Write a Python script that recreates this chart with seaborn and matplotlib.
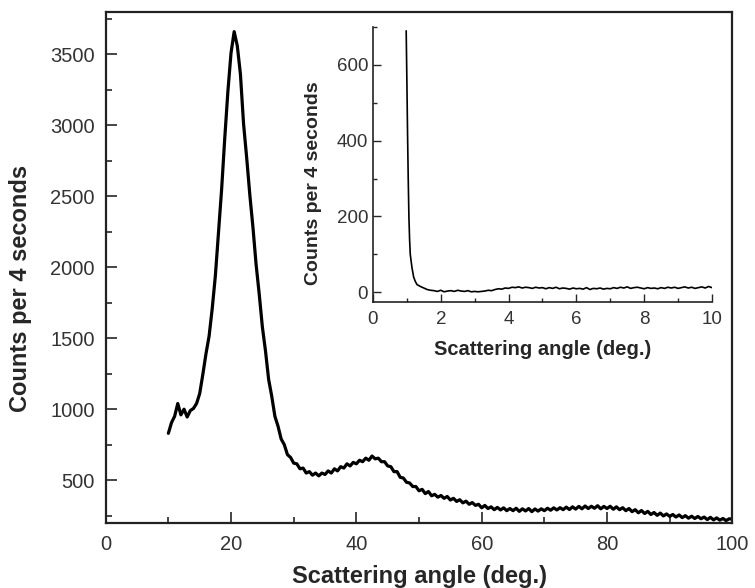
import numpy as np
import matplotlib
matplotlib.use("Agg")
import matplotlib.pyplot as plt
import seaborn as sns
from matplotlib.ticker import MultipleLocator

# main pattern: counts sampled every 0.5 deg from 10 to 100 deg
main_angle = np.arange(10, 100.5, 0.5)
main_counts = [
    830, 905, 950, 1040, 960, 1000, 945, 990, 1005, 1040,
    1110, 1245, 1390, 1515, 1710, 1940, 2240, 2550, 2910, 3240,
    3510, 3660, 3560, 3360, 3010, 2770, 2510, 2280, 2020, 1810,
    1580, 1410, 1210, 1090, 950, 880, 790, 750, 680, 660,
    620, 615, 580, 585, 550, 560, 535, 550, 530, 550,
    540, 565, 550, 580, 565, 595, 585, 615, 600, 625,
    615, 640, 630, 655, 640, 670, 650, 655, 630, 630,
    600, 595, 560, 560, 520, 515, 485, 480, 455, 455,
    425, 435, 405, 420, 390, 400, 380, 392, 372, 385,
    360, 372, 350, 362, 340, 352, 330, 342, 322, 330,
    305, 322, 300, 312, 292, 308, 290, 305, 285, 300,
    285, 302, 280, 298, 283, 300, 278, 297, 282, 298,
    285, 302, 288, 305, 290, 306, 292, 310, 293, 312,
    296, 315, 298, 318, 300, 316, 302, 320, 298, 315,
    300, 316, 295, 312, 292, 306, 285, 300, 278, 292,
    270, 286, 265, 280, 258, 272, 252, 268, 248, 262,
    245, 258, 240, 255, 236, 250, 232, 246, 230, 244,
    228, 240, 222, 238, 220, 234, 218, 230, 215, 228,
    225,
]

# small-angle pattern (inset)
inset_head_angle = [0.98, 1.0, 1.02, 1.04, 1.06, 1.08, 1.1, 1.15, 1.2,
                    1.25, 1.3, 1.4, 1.5, 1.6, 1.7]
inset_head_counts = [690, 560, 420, 300, 200, 140, 100, 65, 40,
                     28, 20, 15, 11, 7, 5]
inset_tail_angle = np.arange(1.8, 10.05, 0.1)
inset_tail_counts = [
    4, 2, 5, 1, 3, 4, 2, 5, 3, 2,
    4, 1, 2, 1, 2, 3, 5, 4, 7, 9,
    8, 11, 10, 13, 12, 14, 11, 13, 12, 10,
    13, 11, 12, 9, 12, 10, 13, 9, 11, 10,
    8, 11, 9, 10, 8, 12, 7, 10, 9, 11,
    8, 10, 9, 12, 10, 13, 11, 14, 10, 12,
    13, 11, 9, 12, 10, 11, 9, 12, 10, 13,
    11, 13, 10, 12, 14, 11, 13, 10, 12, 14,
    11, 15, 12,
]
inset_angle = np.concatenate([inset_head_angle, inset_tail_angle])
inset_counts = np.array(inset_head_counts + inset_tail_counts)

sns.set_theme(style="ticks")
plt.rcParams["font.family"] = ["Liberation Sans", "DejaVu Sans"]

TICK_COLOR = "#333333"

fig = plt.figure(figsize=(7.55, 5.88), dpi=100)
ax = fig.add_axes([0.140, 0.111, 0.830, 0.869])

sns.lineplot(x=main_angle, y=main_counts, ax=ax, color="black", linewidth=2.3)
ax.set_xlim(0, 100)
ax.set_ylim(200, 3800)
ax.xaxis.set_major_locator(MultipleLocator(20))
ax.xaxis.set_minor_locator(MultipleLocator(10))
ax.yaxis.set_minor_locator(MultipleLocator(250))
ax.set_yticks([500, 1000, 1500, 2000, 2500, 3000, 3500])
ax.tick_params(which="both", direction="in", top=False, right=False,
               labelsize=14.5, labelcolor=TICK_COLOR, width=1.2)
ax.tick_params(axis="y", which="major", pad=8)
ax.tick_params(axis="x", which="major", pad=9)
ax.tick_params(which="major", length=8)
ax.tick_params(which="minor", length=4)
for s in ax.spines.values():
    s.set_linewidth(1.6)
    s.set_color("#222222")
ax.set_xlabel("Scattering angle (deg.)", fontsize=17, fontweight="bold", labelpad=8)
ax.set_ylabel("Counts per 4 seconds", fontsize=17, fontweight="bold")
ax.yaxis.set_label_coords(-0.117, 0.458)

# inset
axi = fig.add_axes([0.494, 0.487, 0.449, 0.467])
sns.lineplot(x=inset_angle, y=inset_counts, ax=axi, color="black", linewidth=1.2)
axi.set_xlim(0, 10)
axi.set_ylim(-25, 700)
axi.xaxis.set_major_locator(MultipleLocator(2))
axi.xaxis.set_minor_locator(MultipleLocator(1))
axi.yaxis.set_minor_locator(MultipleLocator(100))
axi.set_yticks([0, 200, 400, 600])
axi.tick_params(which="both", direction="in", labelsize=13.5,
                labelcolor=TICK_COLOR, width=1.0)
axi.tick_params(axis="x", which="major", pad=6.5)
axi.tick_params(which="major", length=6)
axi.tick_params(which="minor", length=3)
axi.spines["top"].set_visible(False)
axi.spines["right"].set_visible(False)
for side in ("left", "bottom"):
    axi.spines[side].set_linewidth(1.2)
    axi.spines[side].set_color("#222222")
axi.patch.set_alpha(0)
axi.set_xlabel("Scattering angle (deg.)", fontsize=14.5, fontweight="bold", labelpad=9)
axi.set_ylabel("Counts per 4 seconds", fontsize=14, fontweight="bold")
axi.yaxis.set_label_coords(-0.151, 0.433)

fig.savefig("out.png", dpi=100)
